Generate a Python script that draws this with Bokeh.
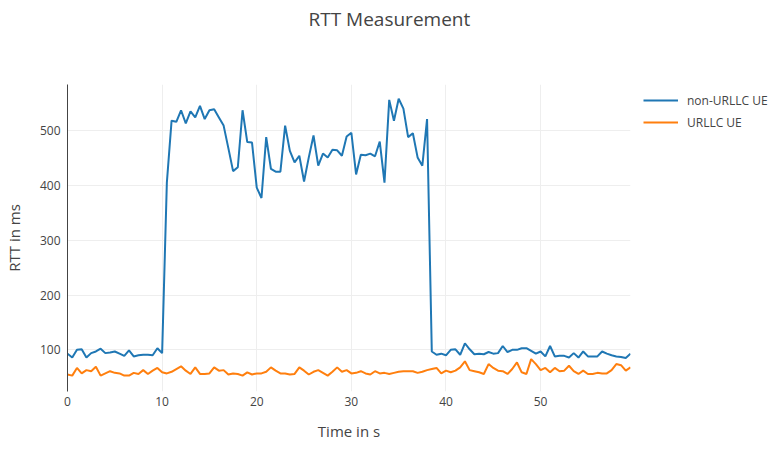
from bokeh.plotting import figure
from bokeh.models import Range1d, FixedTicker, Legend, LegendItem, Title
from bokeh.embed import file_html
from bokeh.resources import INLINE

# time axis: samples every 0.5 s from 0 to 59.5 s
time_s = [i * 0.5 for i in range(120)]

non_urllc_rtt = [
    93, 86, 100, 101, 86, 94, 97, 102, 94, 95, 97, 93, 89, 99, 88, 90, 91, 91, 90, 103,
    94, 405, 518, 516, 537, 513, 535, 524, 545, 521, 537, 539, 524, 509, 468, 426, 433, 537, 479, 478,
    396, 377, 488, 430, 425, 425, 509, 463, 442, 454, 407, 451, 491, 436, 458, 451, 465, 464, 454, 489,
    496, 420, 456, 455, 458, 453, 480, 405, 556, 518, 558, 540, 488, 495, 451, 436, 521, 97, 91, 93,
    90, 100, 101, 91, 112, 101, 92, 93, 92, 96, 93, 94, 107, 96, 100, 100, 103, 103, 98, 93,
    97, 88, 107, 88, 89, 89, 86, 94, 86, 97, 88, 88, 88, 97, 93, 90, 88, 87, 85, 93,
]

urllc_rtt = [
    55, 53, 67, 57, 63, 61, 69, 53, 57, 61, 58, 57, 53, 53, 58, 56, 63, 56, 62, 67,
    59, 57, 60, 65, 70, 62, 56, 68, 56, 56, 57, 68, 62, 63, 55, 57, 56, 53, 59, 55,
    57, 57, 60, 68, 62, 57, 57, 55, 56, 68, 62, 55, 60, 63, 58, 53, 60, 68, 60, 63,
    57, 58, 61, 57, 55, 61, 57, 58, 56, 58, 60, 61, 61, 61, 58, 60, 63, 65, 67, 57,
    62, 59, 62, 68, 79, 63, 61, 59, 56, 74, 67, 62, 61, 56, 65, 77, 59, 56, 83, 74,
    63, 67, 59, 67, 61, 62, 71, 61, 56, 62, 56, 56, 58, 57, 57, 63, 74, 72, 62, 68,
]

series_names = ["non-URLLC UE", "URLLC UE"]
series_colors = ["#1f77b4", "#ff7f0e"]
x_ticks = [0, 10, 20, 30, 40, 50]
y_ticks = [100, 200, 300, 400, 500]

FONT = "Open Sans"
TXT = "#444444"

p = figure(frame_width=563, frame_height=307, output_backend="svg", toolbar_location=None,
           title=None,
           x_range=Range1d(0, 59.5), y_range=Range1d(24, 584),
           min_border_left=59, min_border_right=141, min_border_top=0, min_border_bottom=0)

# spacer (nearest the frame), then the real title above it
p.add_layout(Title(text=" ", text_font_size="1px", standoff=46), "above")
p.add_layout(Title(text="RTT Measurement", align="left", offset=241, standoff=7,
                   text_font=FONT, text_font_size="19px", text_color=TXT,
                   text_font_style="normal"), "above")

r1 = p.line(time_s, non_urllc_rtt, line_color=series_colors[0], line_width=2)
r2 = p.line(time_s, urllc_rtt, line_color=series_colors[1], line_width=2)

p.outline_line_color = None
p.background_fill_color = "white"

for ax in (p.xaxis[0], p.yaxis[0]):
    ax.major_tick_line_color = None
    ax.minor_tick_line_color = None
    ax.major_tick_out = 0
    ax.major_tick_in = 0
    ax.minor_tick_out = 0
    ax.minor_tick_in = 0
    ax.major_label_text_font = FONT
    ax.major_label_text_font_size = "12px"
    ax.major_label_text_color = TXT
    ax.axis_label_text_font = FONT
    ax.axis_label_text_font_size = "15px"
    ax.axis_label_text_color = TXT
    ax.axis_label_text_font_style = "normal"

p.xaxis.ticker = FixedTicker(ticks=x_ticks)
p.yaxis.ticker = FixedTicker(ticks=y_ticks)
p.xaxis.axis_line_color = None
p.yaxis.axis_line_color = "#444444"
p.yaxis.axis_line_width = 1
p.xaxis.axis_label = "Time in s"
p.yaxis.axis_label = "RTT in ms"
p.xaxis.major_label_standoff = 5
p.xaxis.axis_label_standoff = 12
p.yaxis.major_label_standoff = 7
p.yaxis.axis_label_standoff = 13

p.xgrid.ticker = FixedTicker(ticks=x_ticks)
p.ygrid.ticker = FixedTicker(ticks=y_ticks)
p.xgrid.grid_line_color = "#eeeeee"
p.ygrid.grid_line_color = "#eeeeee"
p.xgrid.grid_line_width = 1
p.ygrid.grid_line_width = 1

legend = Legend(items=[LegendItem(label=series_names[0], renderers=[r1]),
                       LegendItem(label=series_names[1], renderers=[r2])],
                location=(13, 259), padding=0, margin=0, spacing=2,
                glyph_width=35, glyph_height=20, label_height=20, label_standoff=9,
                label_text_font=FONT, label_text_font_size="12px", label_text_color=TXT,
                border_line_color=None, background_fill_alpha=0)
p.add_layout(legend, "right")

open("out.html", "w").write(file_html(p, INLINE))
